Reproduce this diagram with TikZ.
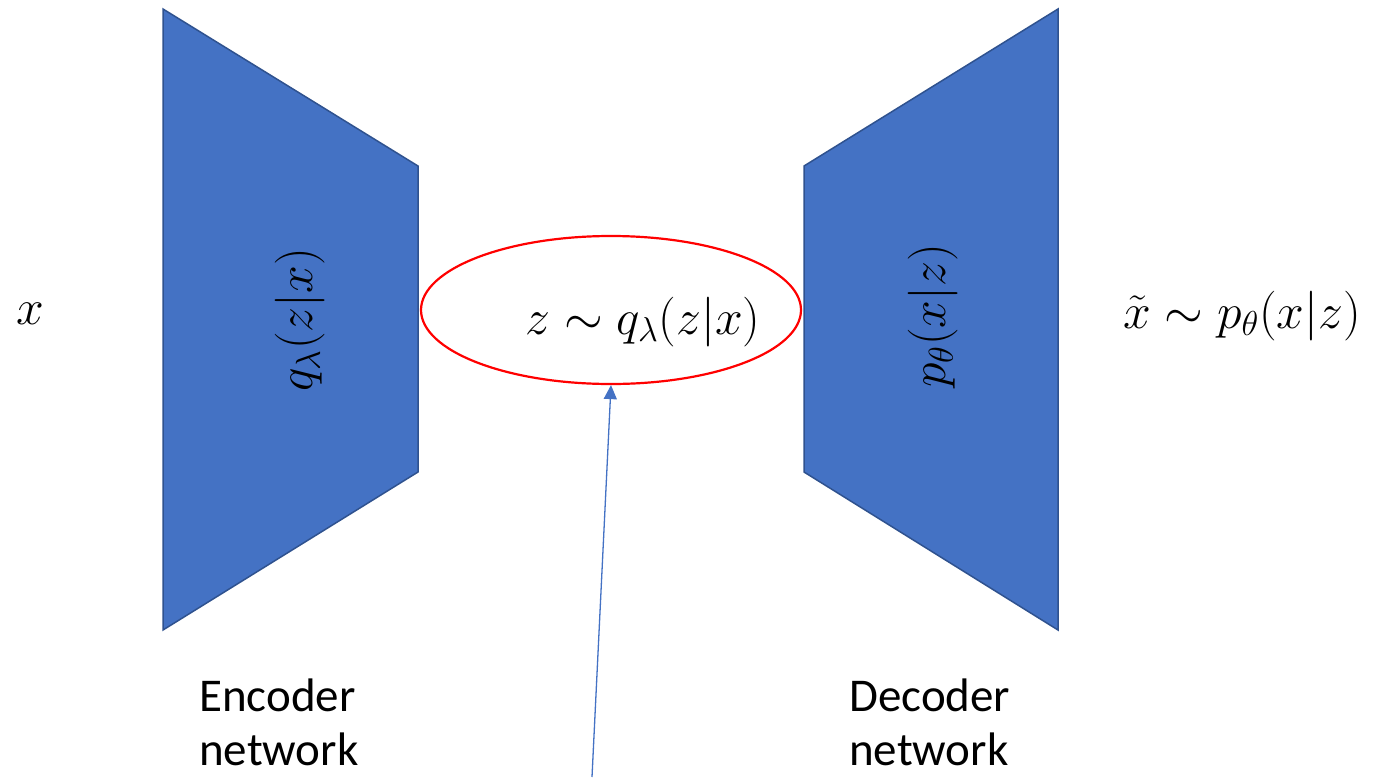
\documentclass[tikz,border=0pt]{standalone}
\usepackage{fontspec}
\setmainfont{Carlito}
\usetikzlibrary{shapes.geometric,arrows.meta}
\definecolor{blockfill}{HTML}{4472C4}
\definecolor{blockline}{HTML}{2F528F}
\definecolor{ellred}{HTML}{FF0000}
\begin{document}
\begin{tikzpicture}[x=1pt,y=-1pt,
  block/.style={fill=blockfill,draw=blockline,line width=1.5pt,line join=miter},
  mathlbl/.style={inner sep=0pt,scale=2,font=\fontsize{24}{28}\selectfont},
  caption/.style={inner sep=0pt,align=left,anchor=north west,font=\fontsize{47}{54}\selectfont}]
\useasboundingbox (0,0) rectangle (1374,777);
% trapezoids
\draw[block] (163,9) -- (418,166) -- (418,472) -- (163,630) -- cycle;
\draw[block] (804,166) -- (1058,9) -- (1058,630) -- (804,472) -- cycle;
% labels inside
\node[mathlbl,rotate=90] (qlbl) at (300,320) {$q_\lambda(z|x)$};
\node[mathlbl,rotate=90] (plbl) at (933,316) {$p_\theta(x|z)$};
% input / output
\node[mathlbl] (xin) at (30,314) {$x$};
\node[mathlbl] (xout) at (1242,316) {$\tilde{x}\sim p_\theta(x|z)$};
% latent ellipse
\node[ellipse,draw=ellred,line width=2.2pt,minimum width=380pt,minimum height=148pt,inner sep=0pt] (lat) at (611,310) {};
\node[mathlbl] (zlbl) at (643,322) {$z\sim q_\lambda(z|x)$};
% arrow
\coordinate (abot) at (592,777);
\draw[blockfill,line width=1.3pt,-{Triangle[length=14pt,width=13pt]}] (abot) -- (lat.south);
% captions
\node[caption] (enc) at (199,679) {Encoder\\network};
\node[caption] (dec) at (849,679) {Decoder\\network};
\end{tikzpicture}
\end{document}
